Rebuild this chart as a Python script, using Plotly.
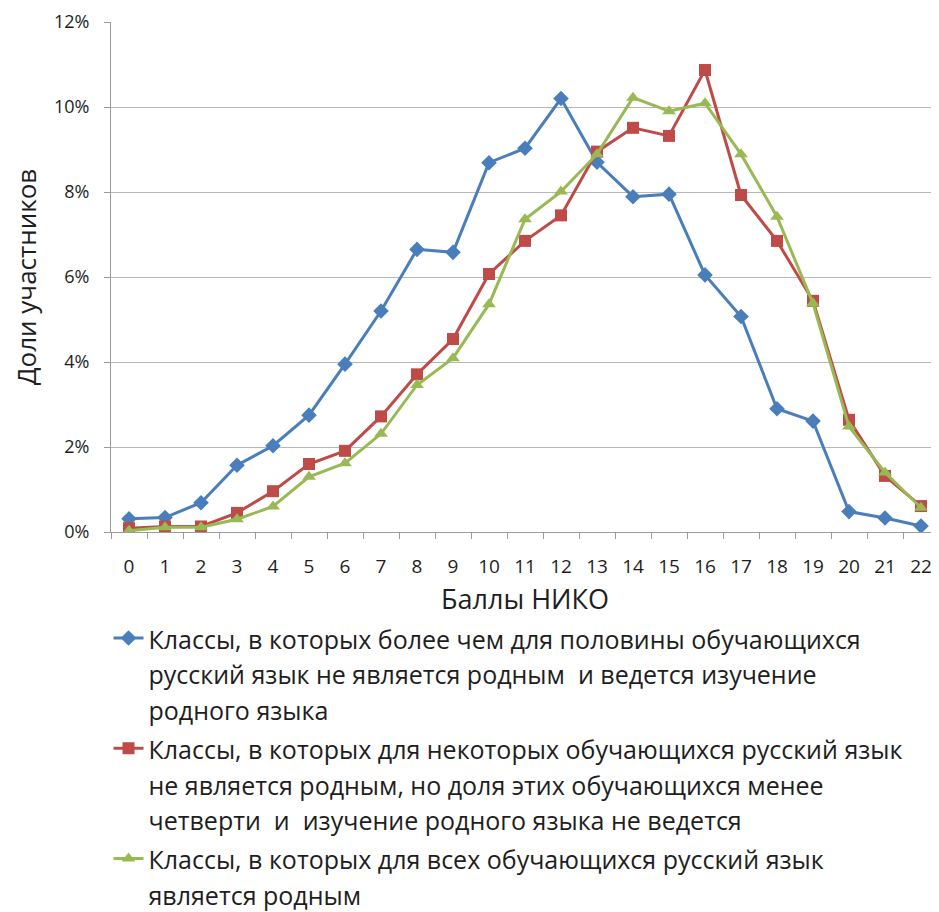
import plotly.graph_objects as go

scores = [str(i) for i in range(23)]
blue_vals = [0.31, 0.34, 0.69, 1.57, 2.03, 2.75, 3.95, 5.20, 6.65, 6.58, 8.69, 9.03, 10.20,
             8.70, 7.89, 7.95, 6.05, 5.07, 2.90, 2.61, 0.48, 0.33, 0.14]
red_vals = [0.09, 0.13, 0.13, 0.45, 0.96, 1.60, 1.91, 2.72, 3.71, 4.54, 6.07, 6.85, 7.45,
            8.95, 9.51, 9.32, 10.87, 7.93, 6.85, 5.44, 2.64, 1.32, 0.61]
green_vals = [0.03, 0.11, 0.11, 0.30, 0.60, 1.30, 1.62, 2.31, 3.46, 4.09, 5.36, 7.36, 8.01,
              8.89, 10.22, 9.90, 10.09, 8.89, 7.42, 5.38, 2.48, 1.40, 0.57]

legend_lines = [
    ["Классы, в которых более чем для половины обучающихся",
     "русский язык не является родным  и ведется изучение",
     "родного языка"],
    ["Классы, в которых для некоторых обучающихся русский язык",
     "не является родным, но доля этих обучающихся менее",
     "четверти  и  изучение родного языка не ведется"],
    ["Классы, в которых для всех обучающихся русский язык",
     "является родным"],
]


def legend_name(lines):
    return "<br>".join('<span style="font-size:25px">%s</span>' % s for s in lines)


FONT = "Open Sans"
TXT = "#1e1e1e"
fig = go.Figure()
series = [
    (blue_vals, "#4a7ebb", "diamond", 12),
    (red_vals, "#be4b48", "square", 12),
    (green_vals, "#98b954", "triangle-up", 12),
]
for i, (vals, col, sym, sz) in enumerate(series):
    fig.add_trace(go.Scatter(
        x=scores, y=[v / 100 for v in vals], name=legend_name(legend_lines[i]),
        mode="lines+markers", legendgroup=str(i),
        line=dict(color=col, width=3),
        marker=dict(symbol=sym, size=sz, color=col),
    ))

# page body has an 8px margin; the figure is sized to fit the window
fig.update_layout(
    width=931, height=904,
    margin=dict(l=103, r=0, t=14, b=380, autoexpand=False),
    paper_bgcolor="white", plot_bgcolor="white",
    font=dict(family=FONT, color=TXT),
    showlegend=True,
    legend=dict(
        x=-0.003, y=-0.160, xanchor="left", yanchor="top",
        font=dict(size=27.5, family=FONT, color=TXT),
        tracegroupgap=0, valign="top",
        itemwidth=30,
    ),
    xaxis=dict(
        type="category", range=[-0.5, 22.5], tickson="boundaries", ticks="outside", ticklen=6,
        tickcolor="#9a9a9a", showline=True, linecolor="#9a9a9a", linewidth=1,
        showgrid=False, automargin=False, ticklabelstandoff=17,
        tickfont=dict(size=19, family=FONT, color=TXT),
        title=dict(text="Баллы НИКО", font=dict(size=27, family=FONT, color=TXT), standoff=12),
    ),
    yaxis=dict(
        range=[0, 0.12], dtick=0.02, tickformat=".0%", ticks="outside", ticklen=6,
        tickcolor="#9a9a9a", showline=True, linecolor="#9a9a9a", linewidth=1,
        gridcolor="#b8b8b8", gridwidth=1.3, zeroline=False, automargin=False,
        ticklabelstandoff=11,
        tickfont=dict(size=18, family=FONT, color=TXT),
        title=dict(text="Доли участников", font=dict(size=26, family=FONT, color=TXT), standoff=12),
    ),
)

fig.write_html("out.html")
